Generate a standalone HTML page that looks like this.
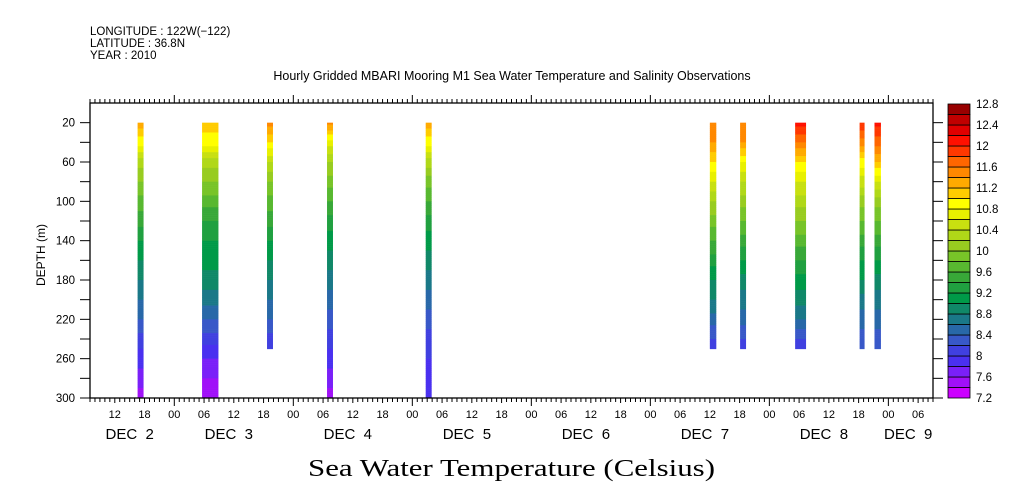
<!DOCTYPE html>
<html><head><meta charset="utf-8">
<style>
html,body{margin:0;padding:0;background:#fff;width:1009px;height:504px;overflow:hidden}
svg text{font-family:"Liberation Sans",sans-serif;fill:#000}
</style></head>
<body>
<svg id="chart" width="1009" height="504" viewBox="0 0 1009 504" xmlns="http://www.w3.org/2000/svg">
<text x="90" y="35" font-size="11.5">LONGITUDE : 122W(−122)</text>
<text x="90" y="47" font-size="11.5">LATITUDE : 36.8N</text>
<text x="90" y="59" font-size="11.5">YEAR : 2010</text>
<text x="512" y="80" font-size="12.5" text-anchor="middle">Hourly Gridded MBARI Mooring M1 Sea Water Temperature and Salinity Observations</text>
<text x="0" y="0" font-size="12" text-anchor="middle" transform="translate(45,255) rotate(-90)">DEPTH (m)</text>
<text x="308" y="476" font-size="24" textLength="407" lengthAdjust="spacingAndGlyphs" style="font-family:'Liberation Serif',serif">Sea Water Temperature (Celsius)</text>
<g id="marks"></g>
<g id="axes"></g>
<g id="cbar"></g>
</svg>
<script>
// data: times in hours from DEC 2 00:00
const barStart = [16.6, 29.6, 42.7, 54.8, 74.7, 132.0, 138.1, 149.2, 162.2, 165.2];
const barEnd   = [17.8, 32.9, 43.9, 56.0, 75.9, 133.3, 139.3, 151.4, 163.2, 166.5];
const barMaxDepth = [300, 300, 250, 300, 300, 250, 250, 250, 250, 250];
const profileDepths = [20,40,60,80,100,120,140,160,180,200,220,240,260,280,300];
const profile1 = [11.3,10.9,10.3,10.0,9.7,9.5,9.2,9.0,8.8,8.6,8.4,8.1,7.9,7.7,7.5];
const profile2 = [11.1,10.9,10.3,10.0,9.7,9.4,9.2,9.1,8.9,8.7,8.4,8.1,7.8,7.6,7.4];
const profile3 = [11.5,11.0,10.4,10.0,9.7,9.5,9.2,9.0,8.8,8.6,8.4,8.1,8.0];
const profile4 = [11.5,10.7,10.2,9.9,9.6,9.3,9.1,8.9,8.7,8.5,8.3,8.1,7.9,7.7,7.5];
const profile5 = [11.3,10.9,10.3,9.9,9.6,9.3,9.1,8.9,8.7,8.5,8.3,8.1,8.0,7.9,7.9];
const profile6 = [11.6,11.4,11.0,10.6,10.2,9.9,9.6,9.3,9.0,8.8,8.5,8.2,8.1];
const profile7 = [11.6,11.4,10.8,10.4,10.1,9.8,9.5,9.2,8.9,8.7,8.5,8.2,8.1];
const profile8 = [12.1,11.6,11.0,10.6,10.3,10.0,9.7,9.4,9.1,8.9,8.6,8.2,8.1];
const profile9 = [12.0,11.5,10.9,10.5,10.1,9.8,9.5,9.2,9.0,8.7,8.5,8.3,8.2];
const profile10 = [12.1,11.7,11.2,10.6,10.1,9.8,9.5,9.2,8.9,8.7,8.5,8.3,8.2];
const profiles = [profile1,profile2,profile3,profile4,profile5,profile6,profile7,profile8,profile9,profile10];
const levelColors = ["#cc00ff","#a010f8","#7a20f8","#4a30f0","#4040e0","#3858c8","#2868a8","#1a7888","#108868","#009a48","#20a040","#38a838","#58b830","#78c428","#98cc20","#b0d818","#c8e010","#e8f000","#ffff00","#ffcc00","#ffaa00","#ff8800","#ff6600","#ff3800","#ff1000","#e00000","#c00000","#980000"];
const cbarLabels = ["7.2","7.6","8","8.4","8.8","9.2","9.6","10","10.4","10.8","11.2","11.6","12","12.4","12.8"];
const yTickLabels = [20,60,100,140,180,220,260,300];
const hourLabels = ["12","18","00","06","12","18","00","06","12","18","00","06","12","18","00","06","12","18","00","06","12","18","00","06","12","18","00","06"];
const dateLabels = ["DEC  2","DEC  3","DEC  4","DEC  5","DEC  6","DEC  7","DEC  8","DEC  9"];
const dateLabelHours = [15,35,59,83,107,131,155,172];

const NS="http://www.w3.org/2000/svg";
const L=90,R=933,T=103,B=398;
const H0=7,H1=177;
const xs=h=>L+(h-H0)*(R-L)/(H1-H0);
const ys=d=>T+d*(B-T)/300;
const vmin=7.2,vmax=12.8,step=0.2;
function col(v){let i=Math.floor((v-vmin)/step);i=Math.max(0,Math.min(levelColors.length-1,i));return levelColors[i];}
function mk(tag,attrs,parent){const e=document.createElementNS(NS,tag);for(const k in attrs)e.setAttribute(k,attrs[k]);parent.appendChild(e);return e;}
const marks=document.getElementById('marks'),axes=document.getElementById('axes'),cbar=document.getElementById('cbar');

profiles.forEach((p,i)=>{
  const g=mk('g',{},marks);
  
  
  const x0=xs(barStart[i]),x1=xs(barEnd[i]);
  const dMax=barMaxDepth[i];
  for(let d=20;d<dMax;d+=2){
    const dc=d+1;
    let k=Math.min(Math.floor((dc-20)/20),p.length-2);
    let t=(dc-profileDepths[k])/20;
    const v=p[k]+(p[k+1]-p[k])*t;
    mk('rect',{x:x0,y:ys(d),width:x1-x0,height:ys(Math.min(d+2,dMax))-ys(d)+0.3,fill:col(v)},g);
  }
});

const fr=mk('rect',{x:L,y:T,width:R-L,height:B-T,fill:'none',stroke:'#000','stroke-width':1.3},axes);


for(let h=H0;h<=H1;h++){
  const x=xs(h);const major=(h%24===0);
  mk('line',{x1:x,x2:x,y1:T,y2:major?T-8:T-4,stroke:'#000'},axes);
  mk('line',{x1:x,x2:x,y1:B,y2:major?B+8:(h%6===0?B+5:B+4),stroke:'#000'},axes);
}
hourLabels.forEach((lab,i)=>{
  const h=12+6*i;
  const t=mk('text',{x:xs(h),y:418,'font-size':11,'text-anchor':'middle'},axes);
  
  
  t.textContent=lab;
});
dateLabels.forEach((lab,i)=>{
  const t=mk('text',{x:xs(dateLabelHours[i]),y:439,'font-size':15,'text-anchor':'middle'},axes);
  
  
  t.setAttribute('style','white-space:pre');
  t.textContent=lab;
});
for(let d=20;d<=300;d+=20){
  const y=ys(d);
  mk('line',{x1:L-10,x2:L,y1:y,y2:y,stroke:'#000'},axes);
  mk('line',{x1:R,x2:R+10,y1:y,y2:y,stroke:'#000'},axes);
}
yTickLabels.forEach(d=>{
  const t=mk('text',{x:L-15,y:ys(d)+4,'font-size':11.5,'text-anchor':'end'},axes);
  
  
  t.textContent=d;
});
const cx=948,cw=22,cT=104,cB=398;
const n=levelColors.length,bh=(cB-cT)/n;
levelColors.forEach((c,i)=>{
  const r=mk('rect',{x:cx,y:cB-(i+1)*bh,width:cw,height:bh,fill:c,stroke:'#000','stroke-width':0.8},cbar);
  
  
});
cbarLabels.forEach((lab,i)=>{
  const t=mk('text',{x:976,y:cB-i*2*bh+4,'font-size':11.5},cbar);
  
  
  t.textContent=lab;
});
</script>
</body></html>
